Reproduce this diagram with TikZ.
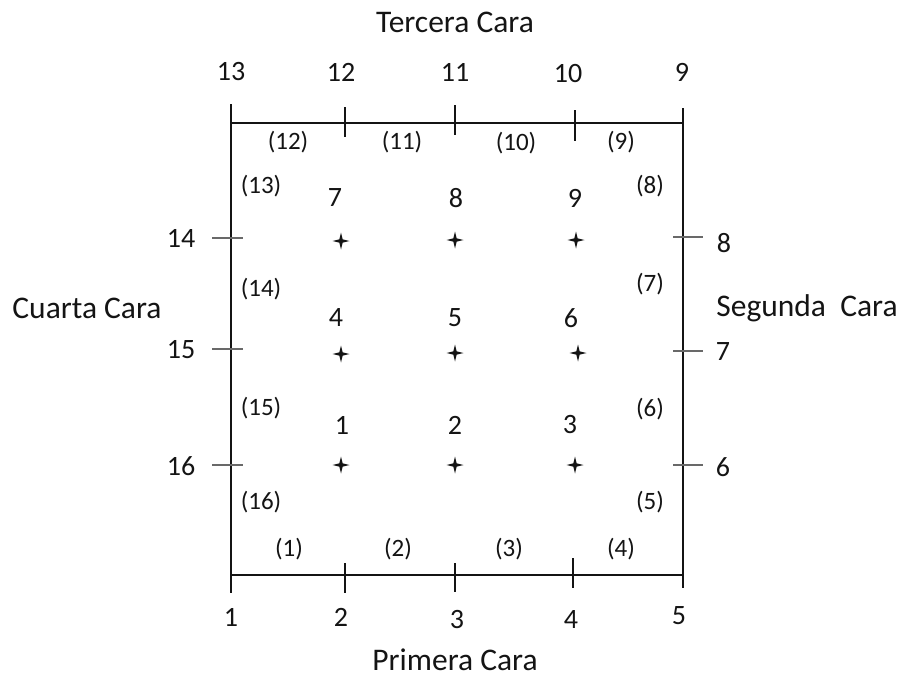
\documentclass[tikz,border=0pt]{standalone}
\usepackage{fontspec}
\setmainfont{Carlito}
\usetikzlibrary{shapes.geometric, positioning}
\definecolor{mydark}{RGB}{20,20,20}
\definecolor{mygray}{RGB}{105,105,105}
\tikzset{
  facelabel/.style={font=\fontsize{31.5}{34}\selectfont, inner sep=0pt, color=mydark},
  cornernum/.style={font=\fontsize{28}{32}\selectfont, inner sep=0pt, color=mydark},
  seglabel/.style={font=\fontsize{25}{28}\selectfont, inner sep=0pt, color=mydark},
  cellnum/.style={font=\fontsize{28}{32}\selectfont, inner sep=0pt, color=mydark},
  cross/.style={star, star points=4, star point ratio=3.6, fill=mydark,
    inner sep=0pt, minimum size=17pt},
  border/.style={line width=1.2pt, color=mydark},
  tickmark/.style={line width=1.1pt, color=mydark},
  sidetick/.style={line width=1.1pt, color=mygray}
}

\begin{document}
\begin{tikzpicture}[x=1pt, y=-1pt]
  \useasboundingbox (0,0) rectangle (904,677);

  % frame ends
  \coordinate (lt) at (231,104);
  \coordinate (lb) at (231,593);
  \coordinate (rt) at (683,108);
  \coordinate (rb) at (683,588);
  \coordinate (tl) at (231,123);
  \coordinate (tr) at (683,123);
  \coordinate (bl) at (231,575);
  \coordinate (br) at (683,575);

  \draw[border] (lt) -- (lb);
  \draw[border] (rt) -- (rb);
  \draw[border] (tl) -- (tr);
  \draw[border] (bl) -- (br);

  % ticks, top and bottom
  \coordinate (t2a) at (345,107); \coordinate (t2b) at (345,137);
  \coordinate (t3a) at (455,105); \coordinate (t3b) at (455,135);
  \coordinate (t4a) at (575,110); \coordinate (t4b) at (575,141);
  \coordinate (b2a) at (345,563); \coordinate (b2b) at (345,593);
  \coordinate (b3a) at (455,563); \coordinate (b3b) at (455,592);
  \coordinate (b4a) at (573,558); \coordinate (b4b) at (573,588);
  \draw[tickmark] (t2a) -- (t2b);
  \draw[tickmark] (t3a) -- (t3b);
  \draw[tickmark] (t4a) -- (t4b);
  \draw[tickmark] (b2a) -- (b2b);
  \draw[tickmark] (b3a) -- (b3b);
  \draw[tickmark] (b4a) -- (b4b);

  % ticks, sides
  \coordinate (l14a) at (212,238); \coordinate (l14b) at (243,238);
  \coordinate (l15a) at (212,349); \coordinate (l15b) at (243,349);
  \coordinate (l16a) at (212,465); \coordinate (l16b) at (243,465);
  \coordinate (r8a) at (673,237); \coordinate (r8b) at (703,237);
  \coordinate (r7a) at (673,351); \coordinate (r7b) at (703,351);
  \coordinate (r6a) at (673,465); \coordinate (r6b) at (703,465);
  \draw[sidetick] (l14a) -- (l14b);
  \draw[sidetick] (l15a) -- (l15b);
  \draw[sidetick] (l16a) -- (l16b);
  \draw[sidetick] (r8a) -- (r8b);
  \draw[sidetick] (r7a) -- (r7b);
  \draw[sidetick] (r6a) -- (r6b);

  % faces
  \node[facelabel] (tercera) at (455,22) {Tercera Cara};
  \node[facelabel] (primera) at (455,660) {Primera Cara};
  \node[facelabel] (cuarta) at (87,308) {Cuarta Cara};
  \node[facelabel] (segunda) at (807,308) {Segunda\ \ Cara};

  % corner numbers
  \node[cornernum] (n13) at (231,72) {13};
  \node[cornernum] (n12) at (341,72) {12};
  \node[cornernum] (n11) at (455,72) {11};
  \node[cornernum] (n10) at (568,74) {10};
  \node[cornernum] (n9) at (682,72) {9};
  \node[cornernum] (n14) at (181,238) {14};
  \node[cornernum] (n15) at (181,350) {15};
  \node[cornernum] (n16) at (181,466) {16};
  \node[cornernum] (n8) at (724,243) {8};
  \node[cornernum] (n7) at (723,352) {7};
  \node[cornernum] (n6) at (723,467) {6};
  \node[cornernum] (n1) at (231,617) {1};
  \node[cornernum] (n2) at (341,617) {2};
  \node[cornernum] (n3) at (457,620) {3};
  \node[cornernum] (n4) at (571,620) {4};
  \node[cornernum] (n5) at (679,616) {5};

  % segment labels
  \node[seglabel] (s12) at (288,142) {(12)};
  \node[seglabel] (s11) at (402,142) {(11)};
  \node[seglabel] (s10) at (516,143) {(10)};
  \node[seglabel] (s9) at (621,142) {(9)};
  \node[seglabel] (s13) at (261,186) {(13)};
  \node[seglabel] (s8) at (650,186) {(8)};
  \node[seglabel] (s14) at (261,289) {(14)};
  \node[seglabel] (s7) at (650,284) {(7)};
  \node[seglabel] (s15) at (261,408) {(15)};
  \node[seglabel] (s6) at (650,409) {(6)};
  \node[seglabel] (s16) at (261,502) {(16)};
  \node[seglabel] (s5) at (650,502) {(5)};
  \node[seglabel] (s1) at (289,549) {(1)};
  \node[seglabel] (s2) at (398,549) {(2)};
  \node[seglabel] (s3) at (509,549) {(3)};
  \node[seglabel] (s4) at (621,549) {(4)};

  % inner points
  \node[cross] (p7) at (341,241) {};
  \node[cross] (p8) at (455,240) {};
  \node[cross] (p9) at (576,240) {};
  \node[cross] (p4) at (341,354) {};
  \node[cross] (p5) at (455,353) {};
  \node[cross] (p6) at (578,353) {};
  \node[cross] (p1) at (341,465) {};
  \node[cross] (p2) at (455,465) {};
  \node[cross] (p3) at (575,465) {};

  \node[cellnum] (c7) at (335,198) {7};
  \node[cellnum] (c8) at (456,198) {8};
  \node[cellnum] (c9) at (575,198) {9};
  \node[cellnum] (c4) at (336,318) {4};
  \node[cellnum] (c5) at (455,318) {5};
  \node[cellnum] (c6) at (571,318) {6};
  \node[cellnum] (c1) at (342,425) {1};
  \node[cellnum] (c2) at (455,425) {2};
  \node[cellnum] (c3) at (570,425) {3};
\end{tikzpicture}
\end{document}
